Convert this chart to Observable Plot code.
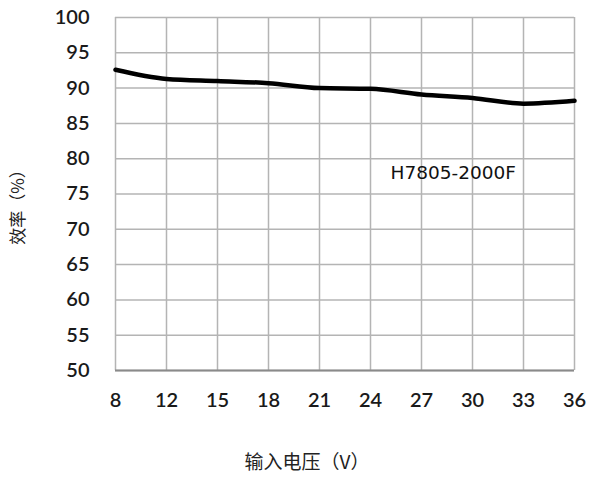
<!DOCTYPE html>
<html>
<head>
<meta charset="utf-8">
<script src="https://cdn.jsdelivr.net/npm/d3@7"></script>
<script src="https://cdn.jsdelivr.net/npm/@observablehq/plot@0.6"></script>
<style>
  html, body { margin: 0; padding: 0; background: #fff; }
</style>
</head>
<body>
<div id="chart"></div>
<script>
const voltages = ["8", "12", "15", "18", "21", "24", "27", "30", "33", "36"];
const efficiency = [92.6, 91.3, 91.0, 90.7, 90.0, 89.9, 89.1, 88.6, 87.8, 88.2];
const yTicks = [50, 55, 60, 65, 70, 75, 80, 85, 90, 95, 100];
const seriesName = "H7805-2000F";
const xTitle = "输入电压（V）";
const yTitle = "效率（%）";

const data = voltages.map((v, i) => ({v, e: efficiency[i]}));

const gridColor = "#b4b4b4";
const numFont = "Lato, 'Open Sans', sans-serif";

const chart = Plot.plot({
  width: 589,
  height: 483,
  marginLeft: 115,
  marginRight: 15,
  marginTop: 17,
  marginBottom: 113,
  style: {background: "#fff", fontFamily: numFont, fontSize: "20px", color: "#1a1a1a"},
  x: {type: "point", domain: voltages, padding: 0, label: null},
  y: {domain: [50, 100], label: null},
  marks: [
    Plot.ruleX(voltages, {stroke: gridColor, strokeWidth: 1.5}),
    Plot.ruleY(yTicks, {stroke: gridColor, strokeWidth: 1.5}),
    Plot.ruleY([50], {stroke: "#8a8a8a", strokeWidth: 2}),
    Plot.axisX({tickSize: 0, tickPadding: 22, fontSize: 20, letterSpacing: -1, fontWeight: 600}),
    Plot.axisY({ticks: yTicks, tickSize: 0, tickPadding: 26, fontSize: 20, letterSpacing: -1, fontWeight: 600}),
    Plot.line(data, {x: "v", y: "e", stroke: "#000", strokeWidth: 4.5, curve: "monotone-x"}),
    Plot.text([seriesName], {x: () => "27", y: () => 78, text: d => d, textAnchor: "start", dx: -31, fontSize: 18.5, fontFamily: "'DejaVu Sans', sans-serif", fill: "#111"}),
    Plot.text([xTitle], {frameAnchor: "bottom", textAnchor: "middle", dx: -38, dy: 98, text: d => d, fontSize: 19, fontFamily: "'Noto Sans CJK SC', sans-serif", fill: "#222"}),
    Plot.text([yTitle], {frameAnchor: "left", textAnchor: "middle", dx: -97, dy: 9, rotate: -90, text: d => d, fontSize: 17, letterSpacing: 2, fontFamily: "'Noto Sans CJK SC', sans-serif", fill: "#222"})
  ]
});
document.getElementById("chart").appendChild(chart);
</script>
</body>
</html>
